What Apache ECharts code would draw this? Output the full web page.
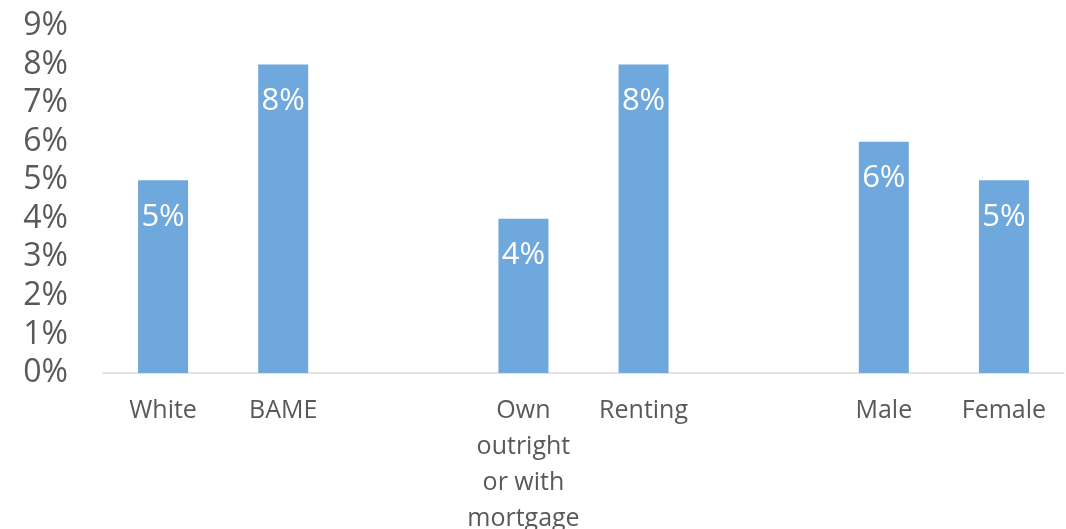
<!DOCTYPE html>
<html>
<head>
<meta charset="utf-8">
<script src="https://cdn.jsdelivr.net/npm/echarts@6/dist/echarts.min.js"></script>
<style>
  html, body { margin: 0; padding: 0; background: #ffffff; }
  #chart { width: 1066px; height: 529px; }
</style>
</head>
<body>
<div id="chart"></div>
<script>
// Groups are separated by empty categories
const categories = ['White', 'BAME', '', 'Own\noutright\nor with\nmortgage', 'Renting', '', 'Male', 'Female'];
const values = [5, 8, null, 4, 8, null, 6, 5];
const yTicks = { min: 0, max: 9, interval: 1 };

const chart = echarts.init(document.getElementById('chart'));
chart.setOption({
  animation: false,
  backgroundColor: '#ffffff',
  grid: {
    left: 103, right: 2, top: 26, bottom: 156,
    containLabel: false,
    outerBoundsMode: 'none'
  },
  xAxis: {
    type: 'category',
    data: categories,
    axisLine: { show: true, lineStyle: { color: '#d9d9d9', width: 1.5 } },
    axisTick: { show: false },
    axisLabel: {
      interval: 0,
      color: '#595959',
      fontFamily: 'Open Sans',
      fontSize: 25,
      lineHeight: 36,
      margin: 20,
      align: 'center'
    }
  },
  yAxis: {
    type: 'value',
    min: yTicks.min,
    max: yTicks.max,
    interval: yTicks.interval,
    axisLine: { show: false },
    axisTick: { show: false },
    splitLine: { show: false },
    axisLabel: {
      color: '#595959',
      fontFamily: 'Open Sans',
      fontSize: 32,
      margin: 35,
      padding: [4, 0, 0, 0],
      formatter: '{value}%'
    }
  },
  series: [{
    type: 'bar',
    data: values,
    barWidth: 50,
    itemStyle: { color: '#6fa8dc' },
    label: {
      show: true,
      position: 'insideTop',
      distance: 21,
      color: '#ffffff',
      fontFamily: 'Open Sans',
      fontSize: 31,
      formatter: p => p.value + '%'
    }
  }]
});
</script>
</body>
</html>
